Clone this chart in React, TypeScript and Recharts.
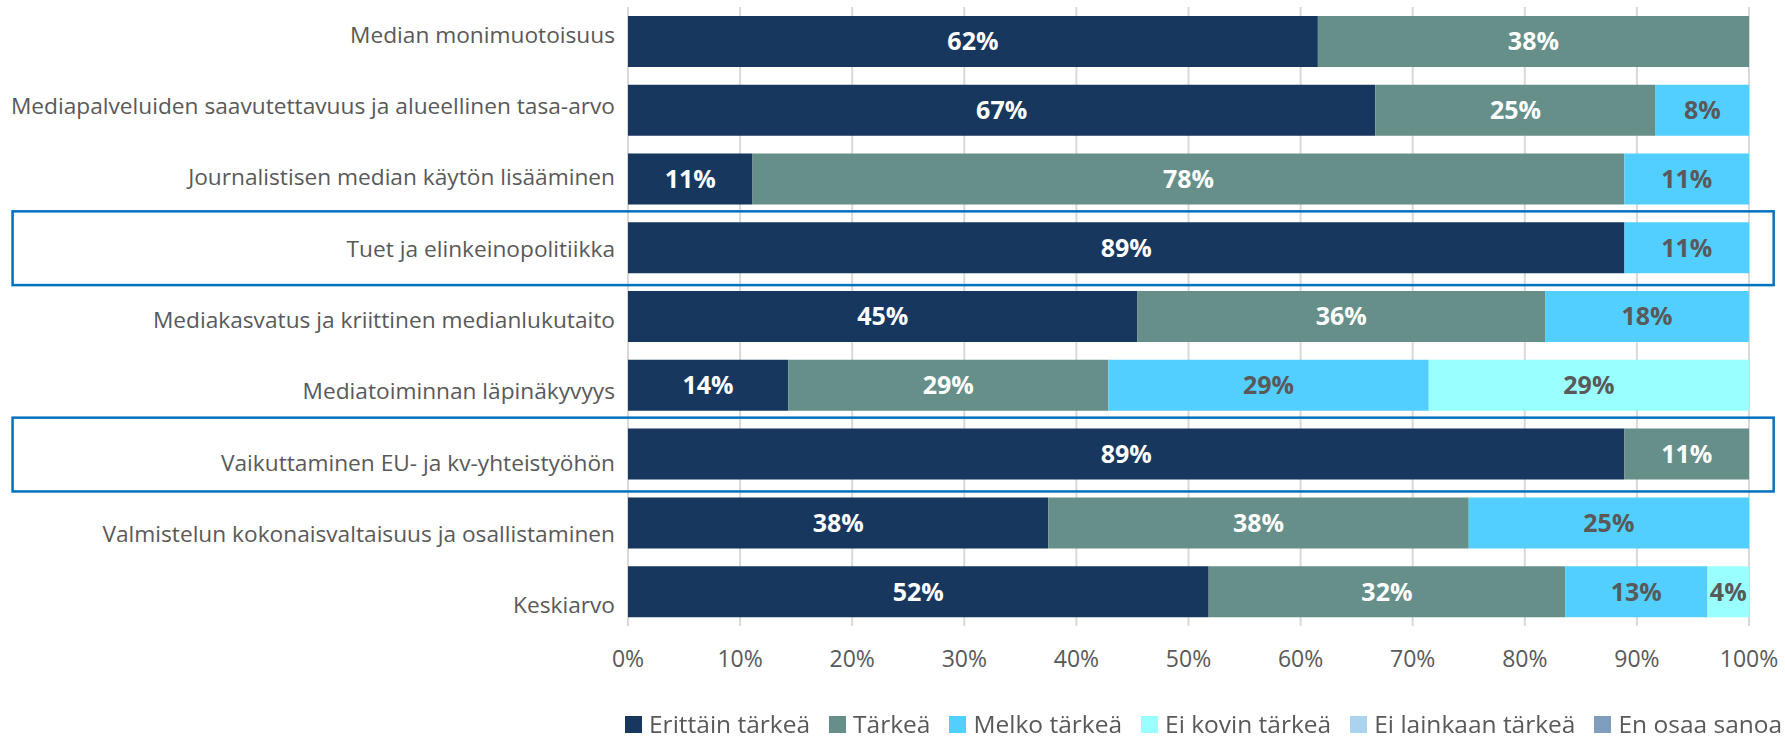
import {
  Bar,
  BarChart,
  CartesianGrid,
  LabelList,
  Legend,
  ReferenceArea,
  XAxis,
  YAxis,
} from "recharts";

const CATEGORIES = [
  "Median monimuotoisuus",
  "Mediapalveluiden saavutettavuus ja alueellinen tasa-arvo",
  "Journalistisen median käytön lisääminen",
  "Tuet ja elinkeinopolitiikka",
  "Mediakasvatus ja kriittinen medianlukutaito",
  "Mediatoiminnan läpinäkyvyys",
  "Vaikuttaminen EU- ja kv-yhteistyöhön",
  "Valmistelun kokonaisvaltaisuus ja osallistaminen",
  "Keskiarvo",
];

const ERITTAIN = [61.54, 66.67, 11.11, 88.89, 45.45, 14.29, 88.89, 37.5, 51.8];
const TARKEA = [38.46, 25.0, 77.78, 0, 36.36, 28.57, 11.11, 37.5, 31.8];
const MELKO = [0, 8.33, 11.11, 11.11, 18.18, 28.57, 0, 25.0, 12.7];
const EI_KOVIN = [0, 0, 0, 0, 0, 28.57, 0, 0, 3.7];
const EI_LAINKAAN = [0, 0, 0, 0, 0, 0, 0, 0, 0];
const EN_OSAA = [0, 0, 0, 0, 0, 0, 0, 0, 0];

const X_TICKS = [0, 10, 20, 30, 40, 50, 60, 70, 80, 90, 100];

// rows outlined in the original
const HIGHLIGHTED = [
  "Tuet ja elinkeinopolitiikka",
  "Vaikuttaminen EU- ja kv-yhteistyöhön",
];

const SERIES = [
  { key: "erittain", name: "Erittäin tärkeä", values: ERITTAIN, color: "#17375E", label: "#FFFFFF" },
  { key: "tarkea", name: "Tärkeä", values: TARKEA, color: "#668F8A", label: "#FFFFFF" },
  { key: "melko", name: "Melko tärkeä", values: MELKO, color: "#53CFFF", label: "#595959" },
  { key: "eiKovin", name: "Ei kovin tärkeä", values: EI_KOVIN, color: "#99FFFF", label: "#595959" },
  { key: "eiLainkaan", name: "Ei lainkaan tärkeä", values: EI_LAINKAAN, color: "#A9D3EE", label: "#595959" },
  { key: "enOsaa", name: "En osaa sanoa", values: EN_OSAA, color: "#7F9DBD", label: "#595959" },
];

const FONT = "'Open Sans', 'Noto Sans', sans-serif";
const GREY = "#595959";

const data = CATEGORIES.map((name, i) => {
  const row: Record<string, number | string> = { name };
  SERIES.forEach((s) => (row[s.key] = s.values[i]));
  return row;
});

const pct = (v: any) => (v > 0 ? `${Math.round(v)}%` : "");

function CategoryTick(props: any) {
  const { x, y, payload, index } = props;
  // Excel spreads the labels a bit wider than the bars
  const shift = -7 + index * 2.5;
  return (
    <text
      x={x + 9}
      y={y + shift}
      textAnchor="end"
      dominantBaseline="central"
      fill={GREY}
      fontSize={22.7}
      fontFamily={FONT}
    >
      {payload.value}
    </text>
  );
}

function OutlineBox(props: any) {
  const { x, y, width, height } = props;
  return (
    <rect
      x={x}
      y={y - 2}
      width={width}
      height={height + 5}
      fill="none"
      stroke="#0070C0"
      strokeWidth={2.5}
    />
  );
}

function LegendRow() {
  return (
    <div
      style={{
        display: "flex",
        alignItems: "center",
        height: 30,
        lineHeight: "30px",
        fontSize: 24.5,
        fontFamily: FONT,
        color: GREY,
        whiteSpace: "nowrap",
      }}
    >
      {SERIES.map((s) => (
        <div key={s.key} style={{ display: "flex", alignItems: "center", marginRight: 19 }}>
          <span
            style={{ width: 17, height: 17, background: s.color, marginRight: 7, display: "inline-block" }}
          />
          {s.name}
        </div>
      ))}
    </div>
  );
}

export default function App() {
  return (
    <div
      style={{
        position: "fixed",
        left: 0,
        top: 0,
        width: 1785,
        height: 739,
        background: "#fff",
        fontFamily: FONT,
      }}
    >
      <BarChart
        width={1785}
        height={739}
        data={data}
        layout="vertical"
        barCategoryGap="13%"
        margin={{ top: 7, right: 36, bottom: 0, left: 0 }}
      >
        <CartesianGrid horizontal={false} stroke="#D9D9D9" strokeWidth={2} />
        <XAxis
          type="number"
          domain={[0, 100]}
          ticks={X_TICKS}
          tickFormatter={(v) => `${v}%`}
          axisLine={false}
          tickLine={false}
          tickMargin={19}
          height={83}
          tick={{ fill: GREY, fontSize: 23, fontFamily: FONT }}
        />
        <YAxis
          type="category"
          dataKey="name"
          width={628}
          axisLine={false}
          tickLine={false}
          tickMargin={16}
          interval={0}
          tick={<CategoryTick />}
        />
        {SERIES.map((s) => (
          <Bar
            key={s.key}
            dataKey={s.key}
            name={s.name}
            stackId="a"
            fill={s.color}
            isAnimationActive={false}
          >
            <LabelList
              dataKey={s.key}
              position="center"
              formatter={pct}
              fill={s.label}
              fontSize={25}
              fontWeight={700}
              fontFamily={FONT}
            />
          </Bar>
        ))}
        {HIGHLIGHTED.map((h) => (
          <ReferenceArea
            key={h}
            y1={h}
            y2={h}
            x1={-54.9}
            x2={102.2}
            ifOverflow="visible"
            shape={<OutlineBox />}
          />
        ))}
        <Legend
          verticalAlign="bottom"
          content={<LegendRow />}
          wrapperStyle={{ left: 625, bottom: 0, width: "auto", height: 30 }}
        />
      </BarChart>
    </div>
  );
}
